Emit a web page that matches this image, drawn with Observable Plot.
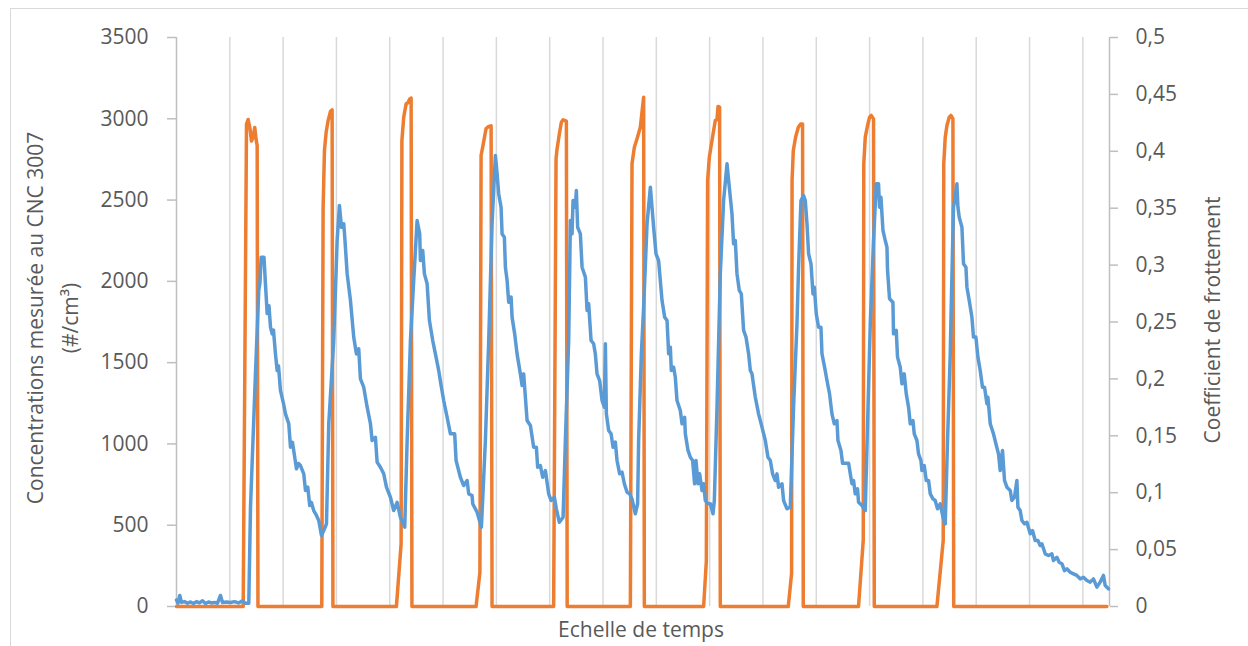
<!DOCTYPE html>
<html><head><meta charset="utf-8">
<script src="https://cdn.jsdelivr.net/npm/d3@7"></script>
<script src="https://cdn.jsdelivr.net/npm/@observablehq/plot@0.6"></script>
<style>body{margin:0;background:#fff} svg{display:block}</style>
</head><body><div id="chart"></div>
<script>
const leftTicks = [0, 500, 1000, 1500, 2000, 2500, 3000, 3500];
const rightTicks = [0, 0.05, 0.1, 0.15, 0.2, 0.25, 0.3, 0.35, 0.4, 0.45, 0.5];
const gridTimes = [10, 20, 30, 40, 50, 60, 70, 80, 90, 100, 110, 120, 130, 140, 150, 160, 170];
const timeDomain = [0, 175];
const leftTitle = ["Concentrations mesurée au CNC 3007", "(#/cm³)"];
const rightTitle = "Coefficient de frottement";
const xTitle = "Echelle de temps";

const blueTime = [
  0,0.28,0.62,0.94,1.5,2.06,2.63,3.19,3.75,4.31,4.88,5.44,6,6.56,7.13,7.69,8.25,8.63,9.38,10.13,10.88,11.63,12.38,12.94,13.56,
  13.88,14.81,15.43,15.65,15.88,16.41,16.69,17.01,17.34,17.63,17.94,18.19,18.56,18.88,19.13,19.5,20.06,20.44,21.06,21.38,21.75,22.5,22.88,23.25,23.87,24.19,24.62,24.99,25.31,25.74,26.25,26.68,27.19,27.62,28.13,
  28.56,29.49,30.13,30.56,30.94,31.37,31.56,32.01,32.63,33.24,33.75,34.18,34.5,35.12,35.76,36.38,36.69,37.31,37.63,38.25,38.87,39.38,40.13,40.74,41.38,42,42.81,
  43.26,43.88,44.49,45.13,45.62,45.75,46.18,46.5,47.01,47.44,48.06,48.56,49.18,49.63,50.12,50.76,51.38,52.18,52.44,53.25,53.87,54.51,54.81,55.44,55.56,56.38,57.19,
  57.94,58.56,59.19,59.81,60.13,60.43,60.88,61.07,61.5,61.69,62.01,62.31,62.76,62.94,63.43,63.88,64.5,64.82,65.12,65.76,66.38,66.99,67.5,67.74,68.25,68.68,69.19,69.81,70.26,70.88,71.25,71.81,72.51,
  72.94,73.56,73.88,74.19,74.38,74.81,75,75.24,75.75,76.07,76.69,77.01,77.31,77.76,78.24,78.56,78.88,79.37,79.82,80.25,80.44,80.63,81.06,81.51,81.88,82.31,82.63,83.12,83.57,84,84.51,84.99,85.44,86.06,86.49,
  86.68,87.19,87.62,88.26,88.88,89.19,89.49,89.94,90.43,91.07,91.56,92.01,92.31,92.63,92.81,93.24,93.56,93.88,94.5,94.82,95.31,95.44,95.94,96.38,96.81,97.18,97.44,97.82,98.12,98.57,98.87,99.19,99.69,100.13,100.63,100.88,
  101.38,102,102.62,103.26,103.69,104.19,104.49,104.81,105.13,105.56,105.94,106.37,106.82,107.31,107.63,107.94,108.56,109.18,109.82,110.44,110.94,111.38,111.81,112.31,112.63,112.93,113.57,113.87,114.51,115.13,
  115.74,116.38,116.68,117.13,117.62,117.94,118.26,118.56,119.01,119.38,119.63,120,120.43,120.88,121.07,121.56,122.01,122.49,122.94,123.38,123.88,124.07,124.63,124.93,126.06,126.38,126.69,126.99,127.31,127.74,127.93,128.57,129.19,
  129.62,130.13,130.74,131.25,131.68,131.87,132.13,132.51,132.94,133.26,133.37,133.74,134.38,134.49,135,135.24,135.75,136.07,136.5,136.88,137.31,137.63,138.13,138.38,138.88,139.18,139.63,139.82,140.25,140.63,141.06,141.38,141.88,142.31,142.74,143.25,143.76,144.19,
  144.62,145.13,145.31,145.74,146.06,146.38,146.57,146.81,147.32,147.62,148.07,148.26,148.69,149.19,149.49,149.94,150.32,150.75,151.18,151.56,152.01,152.19,152.63,153.24,153.69,154.18,154.5,154.93,155.31,155.76,156.38,156.69,157.18,157.63,157.82,158.25,158.57,159.06,159.51,160.13,160.56,161.06,161.57,162,162.32,162.94,163.56,164.19,164.49,165.13,165.56,166.07,166.56,167.01,167.63,168.24,168.88,169.5,170.12,170.76,171.38,171.99,172.63,173.25,173.87,174.19,174.81
];
const blueConc = [
  40,20,68,25,30,20,28,18,30,22,35,18,28,22,25,20,68,25,28,25,30,22,35,20,20,
  611,1431,1944,1990,2149,2149,1980,1802,1850,1718,1677,1700,1554,1452,1480,1329,1250,1185,1124,980,1010,847,880,867,816,714,734,621,640,590,560,529,437,467,508,
  1124,1636,2251,2467,2333,2354,2272,2046,1882,1657,1554,1585,1400,1349,1226,1124,1021,1041,888,857,816,734,672,590,641,549,488,
  1021,1636,2005,2374,2292,2128,2190,2046,1985,1759,1636,1554,1452,1359,1267,1164,1062,1062,898,795,744,775,693,683,632,580,488,
  1021,1636,2354,2774,2662,2539,2456,2292,2272,2087,2005,1872,1903,1780,1677,1554,1431,1359,1431,1144,1113,980,980,857,867,795,836,693,652,672,601,518,549,
  1021,1636,2374,2292,2497,2456,2559,2333,2292,2087,2026,1821,1862,1636,1616,1554,1431,1390,1267,1226,1616,1185,1083,1062,980,1011,898,816,826,755,703,693,662,570,632,
  1021,1554,1841,2354,2579,2456,2333,2169,2128,1882,1780,1759,1554,1595,1452,1472,1410,1267,1206,1124,1164,1062,960,918,898,755,898,755,816,714,755,652,632,632,570,652,
  1226,2046,2497,2723,2579,2415,2231,2251,2046,1944,1923,1698,1657,1554,1452,1431,1288,1185,1103,1021,918,898,816,775,816,734,755,652,601,611,
  1226,1739,2087,2497,2528,2497,2354,2169,2108,1923,1964,1800,1718,1718,1554,1472,1390,1308,1185,1124,1144,1021,960,881,881,816,755,775,693,724,641,621,590,
  1124,1739,2251,2600,2600,2456,2518,2313,2251,2210,2067,1893,1872,1677,1698,1534,1472,1370,1431,1308,1226,1124,1144,1062,1021,939,898,836,867,775,775,693,662,652,601,632,549,508,
  1021,1554,1841,2456,2518,2600,2456,2395,2333,2108,2087,1964,1882,1780,1657,1657,1534,1452,1349,1349,1247,1288,1124,1062,1001,939,836,960,775,734,714,652,672,775,611,590,529,508,518,447,467,406,406,375,386,324,314,324,283,303,272,263,221,232,211,201,191,170,180,160,150,170,119,150,191,129,109
];

const frictionTime = [
  0,12.51,13.13,13.44,13.78,14.06,14.34,14.68,14.94,15.13,15.28,
  27.25,27.5,27.75,28.07,28.44,28.88,29.19,29.34,
  41.25,42.13,42.28,42.62,43.07,43.37,43.74,44.01,44.16,
  56.19,56.91,57.13,57.43,58.07,58.56,59.01,59.19,
  70.74,71.19,71.38,71.81,72.19,72.51,73.13,73.28,
  85.13,85.44,85.88,86.38,87,87.62,87.75,
  98.87,99.38,99.62,99.94,100.44,101.06,101.38,101.57,101.87,102,
  114.75,115.37,115.46,115.69,116.12,116.63,117.06,117.43,117.56,
  127.93,128.81,128.91,129.19,129.62,130,130.31,130.74,130.88,
  142.63,143.81,143.91,144.19,144.51,144.94,145.26,145.63,145.78,
  174.51
];
const frictionCoef = [
  0,0,0.424,0.428,0.42,0.409,0.412,0.421,0.41,0.405,0,
  0,0.35,0.4007,0.4168,0.427,0.435,0.4365,0,
  0,0.055,0.4095,0.43,0.4417,0.4425,0.446,0.4467,0,
  0,0.03,0.3963,0.4036,0.42,0.4218,0.4224,0,
  0,0.3934,0.402,0.4153,0.4255,0.4277,0.4265,0,
  0,0.389,0.4036,0.411,0.4212,0.4475,0,
  0,0.04,0.3743,0.3948,0.4095,0.427,0.428,0.4394,0.4388,0,
  0,0.029,0.3743,0.4007,0.4124,0.4212,0.424,0.424,0,
  0,0.058,0.389,0.4124,0.4227,0.43,0.4315,0.4285,0,
  0,0.058,0.389,0.4124,0.4227,0.43,0.4315,0.4285,0,
  0
];

const RATIO = leftTicks[leftTicks.length - 1] / rightTicks[rightTicks.length - 1];
const blue = blueTime.map((t, i) => ({t, v: blueConc[i]}));
const orange = frictionTime.map((t, i) => ({t, v: frictionCoef[i] * RATIO}));
const fmtRight = d => String(+(d / RATIO).toFixed(2)).replace(".", ",");

const FONT = "'Open Sans', sans-serif";
const chart = Plot.plot({
  width: 1248, height: 646,
  marginLeft: 176, marginRight: 139, marginTop: 37, marginBottom: 40,
  style: {fontFamily: FONT, fontSize: "21px", background: "#fff", overflow: "visible"},
  x: {domain: timeDomain, axis: null},
  y: {domain: [0, 3500]},
  marks: [
    Plot.ruleX(gridTimes, {stroke: "#d9d9d9", strokeWidth: 1.5}),
    Plot.ruleX(timeDomain, {stroke: "#bfbfbf", strokeWidth: 1.5}),
    Plot.axisY(leftTicks, {anchor: "left", tickSize: 9, tickPadding: 19, stroke: "#bfbfbf", strokeWidth: 1.5, fill: "#595959", label: null, tickFormat: d => String(d), fontSize: 21}),
    Plot.axisY(rightTicks.map(v => v * RATIO), {anchor: "right", tickSize: 8, tickPadding: 18, stroke: "#bfbfbf", strokeWidth: 1.5, fill: "#595959", label: null, tickFormat: fmtRight, fontSize: 21}),
    Plot.line(orange, {x: "t", y: "v", stroke: "#ED7D31", strokeWidth: 3.5, strokeLinejoin: "round", strokeLinecap: "round"}),
    Plot.line(blue, {x: "t", y: "v", stroke: "#5B9BD5", strokeWidth: 3.5, strokeLinejoin: "round", strokeLinecap: "round"})
  ]
});
document.getElementById("chart").appendChild(chart);

const svg = d3.select(chart);
svg.insert("rect", ":first-child")
  .attr("x", 10.5).attr("y", 8.5).attr("width", 1400).attr("height", 800)
  .attr("fill", "none").attr("stroke", "#d9d9d9").attr("stroke-width", 1);
const addText = (x, y, rot, txt) => svg.append("text")
  .attr("transform", `translate(${x},${y}) rotate(${rot})`)
  .attr("text-anchor", "middle").attr("dominant-baseline", "central")
  .attr("fill", "#595959").attr("font-family", FONT).attr("font-size", 21)
  .text(txt);
addText(35, 318, -90, leftTitle[0]);
addText(70, 318, -90, leftTitle[1]);
addText(1212, 320, -90, rightTitle);
addText(641, 629, 0, xTitle);
</script></body></html>
